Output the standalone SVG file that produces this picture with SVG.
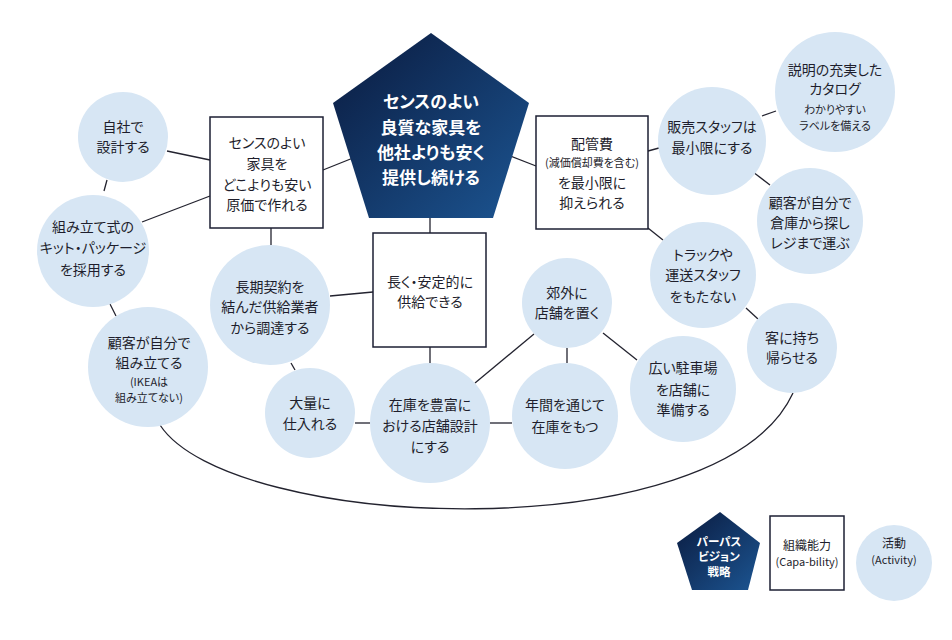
<svg xmlns="http://www.w3.org/2000/svg" width="952" height="640" viewBox="0 0 952 640">
<defs>
<linearGradient id="pg" x1="0" y1="0" x2="1" y2="1">
<stop offset="0" stop-color="#0a1a3e"/>
<stop offset="1" stop-color="#1c5592"/>
</linearGradient>
<style>
.act{fill:#d7e6f4}
.cap{fill:#ffffff;stroke:#1c1f33;stroke-width:1.5}
.conn{fill:none;stroke:#23232f;stroke-width:1.3}
text{font-family:"Noto Sans CJK JP","Noto Sans",sans-serif;font-feature-settings:"palt";text-anchor:middle;fill:#1e1e2c}
.t{font-size:14px}
.ts{font-size:11px}
.tw{fill:#ffffff;font-weight:bold}
</style>
</defs>
<rect width="952" height="640" fill="#ffffff"/>
<g id="connectors">
<line class="conn" x1="167" y1="151" x2="210" y2="160"/>
<line class="conn" x1="107" y1="180" x2="104" y2="191"/>
<line class="conn" x1="142" y1="222" x2="210" y2="196"/>
<line class="conn" x1="323" y1="170" x2="353" y2="158"/>
<line class="conn" x1="271" y1="228" x2="271" y2="245"/>
<line class="conn" x1="110" y1="304" x2="116" y2="316"/>
<line class="conn" x1="330" y1="296" x2="373" y2="292"/>
<line class="conn" x1="291" y1="363" x2="295" y2="370"/>
<line class="conn" x1="355" y1="423" x2="370" y2="423"/>
<line class="conn" x1="430" y1="347" x2="430" y2="363"/>
<line class="conn" x1="430" y1="218" x2="430" y2="233"/>
<line class="conn" x1="475" y1="383" x2="534" y2="334"/>
<line class="conn" x1="490" y1="423" x2="512" y2="423"/>
<line class="conn" x1="567" y1="348" x2="567" y2="363"/>
<line class="conn" x1="603" y1="333" x2="637" y2="360"/>
<line class="conn" x1="746" y1="308" x2="758" y2="319"/>
<line class="conn" x1="508" y1="155" x2="536" y2="166"/>
<line class="conn" x1="648" y1="151" x2="659" y2="148"/>
<line class="conn" x1="762" y1="116" x2="776" y2="111"/>
<line class="conn" x1="753" y1="172" x2="770" y2="185"/>
<line class="conn" x1="648" y1="228" x2="663" y2="240"/>
<path class="conn" d="M160,425 C230,532 720,552 793,393"/>
</g>
<g id="purpose">
<polygon points="431,33 529,103 493,218 369,218 333,103" fill="url(#pg)"/>
<text class="tw" font-size="17" x="431" y="108">センスのよい</text>
<text class="tw" font-size="17" x="431" y="134">良質な家具を</text>
<text class="tw" font-size="17" x="431" y="159">他社よりも安く</text>
<text class="tw" font-size="17" x="431" y="184">提供し続ける</text>
</g>
<g id="cap-cost">
<rect class="cap" x="210" y="117" width="113" height="111"/>
<text class="t" x="267" y="148">センスのよい</text>
<text class="t" x="267" y="169">家具を</text>
<text class="t" x="267" y="190">どこよりも安い</text>
<text class="t" x="267" y="210">原価で作れる</text>
</g>
<g id="cap-supply">
<rect class="cap" x="373" y="233" width="113" height="114"/>
<text class="t" x="430" y="287">長く・安定的に</text>
<text class="t" x="430" y="307">供給できる</text>
</g>
<g id="cap-expense">
<rect class="cap" x="536" y="116" width="112" height="113"/>
<text class="t" x="592" y="149">配管費</text>
<text class="ts" x="592" y="167">(減価償却費を含む)</text>
<text class="t" x="592" y="188">を最小限に</text>
<text class="t" x="592" y="208">抑えられる</text>
</g>
<g id="act-design">
<circle class="act" cx="123" cy="137" r="45"/>
<text class="t" x="123" y="132">自社で</text>
<text class="t" x="123" y="152">設計する</text>
</g>
<g id="act-kit">
<circle class="act" cx="93" cy="251" r="56"/>
<text class="t" x="93" y="232">組み立て式の</text>
<text class="t" x="93" y="253">キット・パッケージ</text>
<text class="t" x="93" y="275">を採用する</text>
</g>
<g id="act-assemble">
<circle class="act" cx="148" cy="367" r="60"/>
<text class="t" x="149" y="348">顧客が自分で</text>
<text class="t" x="149" y="368">組み立てる</text>
<text class="ts" x="149" y="386">(IKEAは</text>
<text class="ts" x="149" y="402">組み立てない)</text>
</g>
<g id="act-longterm">
<circle class="act" cx="270" cy="305" r="60"/>
<text class="t" x="270" y="292">長期契約を</text>
<text class="t" x="270" y="312">結んだ供給業者</text>
<text class="t" x="270" y="333">から調達する</text>
</g>
<g id="act-bulk">
<circle class="act" cx="310" cy="413" r="45"/>
<text class="t" x="310" y="408">大量に</text>
<text class="t" x="310" y="429">仕入れる</text>
</g>
<g id="act-store">
<circle class="act" cx="430" cy="423" r="60"/>
<text class="t" x="430" y="410">在庫を豊富に</text>
<text class="t" x="430" y="431">おける店舗設計</text>
<text class="t" x="430" y="452">にする</text>
</g>
<g id="act-suburb">
<circle class="act" cx="567" cy="303" r="45"/>
<text class="t" x="567" y="298">郊外に</text>
<text class="t" x="567" y="318">店舗を置く</text>
</g>
<g id="act-yearround">
<circle class="act" cx="565" cy="416" r="53"/>
<text class="t" x="565" y="410">年間を通じて</text>
<text class="t" x="565" y="432">在庫をもつ</text>
</g>
<g id="act-parking">
<circle class="act" cx="683" cy="389" r="53"/>
<text class="t" x="683" y="373">広い駐車場</text>
<text class="t" x="683" y="395">を店舗に</text>
<text class="t" x="683" y="415">準備する</text>
</g>
<g id="act-truck">
<circle class="act" cx="703" cy="275" r="53"/>
<text class="t" x="703" y="260">トラックや</text>
<text class="t" x="703" y="280">運送スタッフ</text>
<text class="t" x="703" y="302">をもたない</text>
</g>
<g id="act-carry">
<circle class="act" cx="792" cy="348" r="45"/>
<text class="t" x="792" y="343">客に持ち</text>
<text class="t" x="792" y="363">帰らせる</text>
</g>
<g id="act-staff">
<circle class="act" cx="712" cy="141" r="54"/>
<text class="t" x="712" y="132">販売スタッフは</text>
<text class="t" x="712" y="153">最小限にする</text>
</g>
<g id="act-catalog">
<circle class="act" cx="835" cy="92" r="60"/>
<text class="t" x="835" y="75">説明の充実した</text>
<text class="t" x="835" y="94">カタログ</text>
<text class="ts" font-size="11.5" x="835" y="114">わかりやすい</text>
<text class="ts" font-size="11.5" x="835" y="130">ラベルを備える</text>
</g>
<g id="act-warehouse">
<circle class="act" cx="810" cy="221" r="53"/>
<text class="t" x="810" y="208">顧客が自分で</text>
<text class="t" x="810" y="228">倉庫から探し</text>
<text class="t" x="810" y="248">レジまで運ぶ</text>
</g>
<g id="legend-purpose">
<polygon points="720,512 760,543 748,590 692,590 677,543" fill="url(#pg)"/>
<text class="tw" font-size="11.5" x="719" y="546">パーパス</text>
<text class="tw" font-size="11.5" x="719" y="561">ビジョン</text>
<text class="tw" font-size="11.5" x="719" y="576">戦略</text>
</g>
<g id="legend-capability">
<rect class="cap" x="770" y="516" width="74" height="74"/>
<text font-size="12" x="807" y="550">組織能力</text>
<text class="ts" x="807" y="566">(Capa-bility)</text>
</g>
<g id="legend-activity">
<circle class="act" cx="894" cy="563" r="38"/>
<text font-size="12" x="894" y="548">活動</text>
<text class="ts" x="894" y="564">(Activity)</text>
</g>
</svg>
